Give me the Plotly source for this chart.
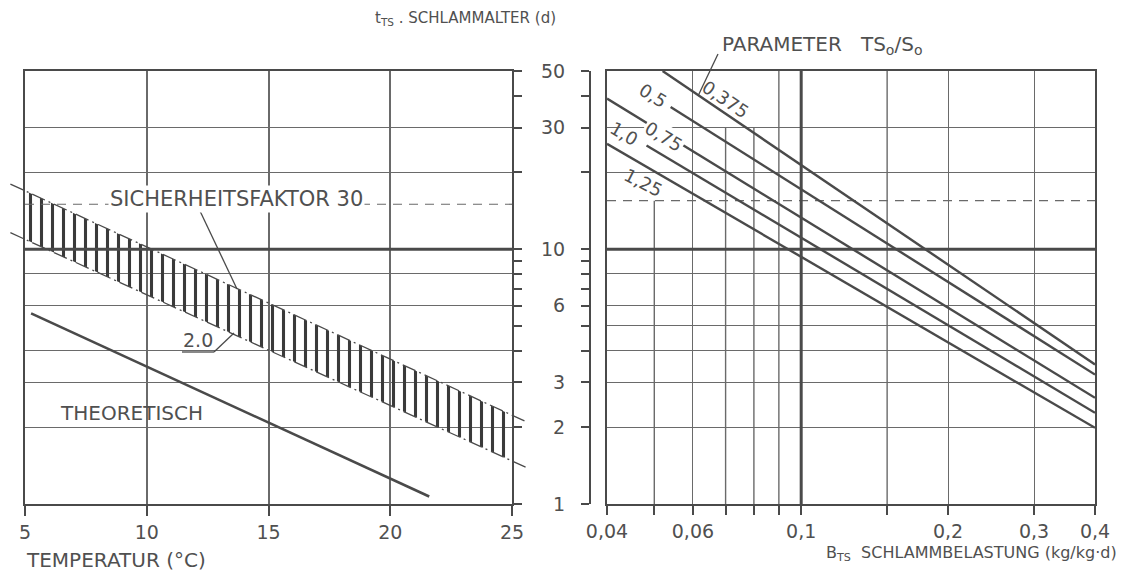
import math
import plotly.graph_objects as go

W, H = 1125, 576

# ---------------- data ----------------
# left chart: sludge age (d) versus temperature (deg C)
temp_theo = [5.25, 21.6]
age_theo = [5.6, 1.07]
temp_band = [4.4, 25.6]
age_band_upper = [18.0, 2.1]     # Sicherheitsfaktor 3.0
age_band_lower = [11.6, 1.39]    # Sicherheitsfaktor 2.0
temp_span = [5, 25]
age_dash_left = [15.0, 15.0]
age_ref = [10, 10]

# right chart: sludge age (d) versus sludge loading, parameter TS0/S0
param_labels = ["0,375", "0,5", "0,75", "1,0", "1,25"]
load_start = [0.052, 0.054, 0.040, 0.0482, 0.040]
load_end = [0.4, 0.4, 0.4, 0.4, 0.4]
age_start = [50.0, 36.1, 39.0, 25.5, 25.9]
age_end = [3.53, 3.22, 2.61, 2.28, 1.99]
load_span = [0.04, 0.4]
age_dash_right = [15.5, 15.5]
load_ref = [0.1, 0.1]
age_span = [1, 50]
# vertical grid lines of the right chart that stop below the top edge
load_grid_x = [0.05, 0.07, 0.08, 0.09, 0.15]
load_grid_top = [15.5, 30, 30, 50, 50]

# ticks
temp_ticks = [5, 10, 15, 20, 25]
load_ticks = [0.04, 0.06, 0.1, 0.2, 0.3, 0.4]
load_ticktext = ["0,04", "0,06", "0,1", "0,2", "0,3", "0,4"]
load_minor = [0.05, 0.07, 0.08, 0.09, 0.15]
age_grid_left = [1, 2, 3, 4, 6, 8, 10, 20, 30, 50]
age_minor_left = [5, 7, 9, 40]
age_grid_right = [2, 3, 4, 5, 6, 8, 10, 20, 30]
age_ticks_right = [1, 2, 3, 6, 10, 30, 50]
age_minor_right = [4, 5, 7, 8, 9, 20, 40]

# ---------------- geometry ----------------
LX0, LX1 = 25, 512
RX0, RX1 = 607, 1095
YT, YB = 71, 504
EXT0, EXT1 = 10, 528
RAXIS = 590


def fx(p):
    return p / W


def fy(p):
    return 1 - p / H


ink = "#4a4a4a"
grid = "#6a6a6a"
txt = "#505050"
FONT = "DejaVu Sans"

t_per_px = (temp_span[1] - temp_span[0]) / (LX1 - LX0)
ext_range = [temp_span[0] + (EXT0 - LX0) * t_per_px, temp_span[0] + (EXT1 - LX0) * t_per_px]

fig = go.Figure()

# hatched band
fig.add_trace(go.Scatter(
    x=temp_band + temp_band[::-1], y=age_band_lower + age_band_upper[::-1],
    xaxis="x", yaxis="y", mode="lines", line=dict(width=0),
    fill="toself", fillcolor="rgba(0,0,0,0)",
    fillpattern=dict(shape="|", size=11, solidity=0.28, fgcolor="#3a3a3a",
                     bgcolor="rgba(255,255,255,0)", fgopacity=1),
    hoverinfo="skip"))
# band boundaries, running past the frame (own invisible axes)
for arr in (age_band_upper, age_band_lower):
    fig.add_trace(go.Scatter(x=temp_band, y=arr, xaxis="x3", yaxis="y4", mode="lines",
                             line=dict(color=ink, width=1.3, dash="14px,4px,2px,4px")))
fig.add_trace(go.Scatter(x=temp_theo, y=age_theo, xaxis="x", yaxis="y", mode="lines",
                         line=dict(color=ink, width=2.6)))
fig.add_trace(go.Scatter(x=temp_span, y=age_ref, xaxis="x", yaxis="y", mode="lines",
                         line=dict(color=ink, width=3)))
fig.add_trace(go.Scatter(x=temp_span, y=age_dash_left, xaxis="x", yaxis="y", mode="lines",
                         line=dict(color=grid, width=1.2, dash="9px,7px")))

# right chart grid extras and reference lines
for gx, gt in zip(load_grid_x, load_grid_top):
    fig.add_trace(go.Scatter(x=[gx, gx], y=[age_span[0], gt], xaxis="x2", yaxis="y2",
                             mode="lines", line=dict(color=grid, width=1.4), hoverinfo="skip"))
fig.add_trace(go.Scatter(x=load_span, y=age_ref, xaxis="x2", yaxis="y2", mode="lines",
                         line=dict(color=ink, width=3)))
fig.add_trace(go.Scatter(x=load_span, y=age_dash_right, xaxis="x2", yaxis="y2", mode="lines",
                         line=dict(color=grid, width=1.2, dash="9px,7px")))
fig.add_trace(go.Scatter(x=load_ref, y=age_span, xaxis="x2", yaxis="y2", mode="lines",
                         line=dict(color=ink, width=3)))
for i in range(len(param_labels)):
    fig.add_trace(go.Scatter(x=[load_start[i], load_end[i]], y=[age_start[i], age_end[i]],
                             xaxis="x2", yaxis="y3", mode="lines", name=param_labels[i],
                             line=dict(color=ink, width=2.4)))

tickfont = dict(family=FONT, size=19, color=txt)
ydom = [fy(YB), fy(YT)]
yrange = [0, math.log10(50)]

fig.update_layout(
    template="none",
    width=W, height=H, margin=dict(l=0, r=0, t=0, b=0, pad=0, autoexpand=False),
    paper_bgcolor="white", plot_bgcolor="rgba(0,0,0,0)", showlegend=False,
    xaxis=dict(domain=[fx(LX0), fx(LX1)], range=temp_span, anchor="y", automargin=False,
               tickmode="array", tickvals=temp_ticks, ticks="outside", ticklen=10,
               tickwidth=2, tickcolor=ink, showline=True, linewidth=2.4, linecolor=ink,
               mirror=True, showgrid=True, gridcolor=grid, gridwidth=2, zeroline=False,
               tickfont=tickfont),
    yaxis=dict(domain=ydom, type="log", range=yrange, anchor="x", side="right",
               automargin=False,
               tickmode="array", tickvals=age_grid_left, showticklabels=False,
               ticks="outside", ticklen=8, tickwidth=2, tickcolor=ink,
               showline=True, linewidth=2, linecolor=ink, mirror=True,
               showgrid=True, gridcolor=grid, gridwidth=1.4, zeroline=False,
               minor=dict(tickmode="array", tickvals=age_minor_left, ticks="outside",
                          ticklen=8, tickwidth=2, tickcolor=ink, showgrid=False)),
    xaxis3=dict(domain=[fx(EXT0), fx(EXT1)], range=ext_range, anchor="y4", visible=False,
                automargin=False, showgrid=False),
    yaxis4=dict(domain=ydom, type="log", range=yrange, anchor="x3", visible=False,
                automargin=False, showgrid=False),
    xaxis2=dict(domain=[fx(RX0), fx(RX1)], type="log", automargin=False,
                range=[math.log10(load_span[0]), math.log10(load_span[1])], anchor="y2",
                tickmode="array", tickvals=load_ticks, ticktext=load_ticktext,
                ticks="outside", ticklen=9, tickwidth=2, tickcolor=ink,
                showline=True, linewidth=2.4, linecolor=ink, mirror=True,
                showgrid=True, gridcolor=grid, gridwidth=1.4, zeroline=False,
                tickfont=tickfont,
                minor=dict(tickmode="array", tickvals=load_minor, ticks="outside",
                           ticklen=9, tickwidth=2, tickcolor=ink, showgrid=False)),
    yaxis2=dict(domain=ydom, type="log", range=yrange, anchor="x2", automargin=False,
                tickmode="array", tickvals=age_grid_right, showticklabels=False, ticks="",
                showline=True, linewidth=2, linecolor=ink, mirror=True,
                showgrid=True, gridcolor=grid, gridwidth=1.4, zeroline=False),
    yaxis3=dict(domain=ydom, type="log", range=yrange, overlaying="y2", anchor="free",
                position=fx(RAXIS), side="left", tickmode="array", automargin=False,
                tickvals=age_ticks_right, ticktext=[str(v) for v in age_ticks_right],
                ticks="outside", ticklen=8, tickwidth=2, tickcolor=ink,
                showline=True, linewidth=2, linecolor=ink, showgrid=False,
                zeroline=False, tickfont=tickfont, ticklabelstandoff=12,
                minor=dict(tickmode="array", tickvals=age_minor_right, ticks="outside",
                           ticklen=8, tickwidth=2, tickcolor=ink, showgrid=False)),
)


def ann(text, x, y, size=19, xanchor="center", yanchor="middle", angle=0, bg=None):
    d = dict(text=text, x=fx(x), y=fy(y), xref="paper", yref="paper", showarrow=False,
             xanchor=xanchor, yanchor=yanchor, textangle=angle,
             font=dict(family=FONT, size=size, color=txt))
    if bg:
        d.update(bgcolor=bg, borderpad=1)
    fig.add_annotation(**d)


def leader(p0, p1):
    fig.add_shape(type="line", xref="paper", yref="paper", x0=fx(p0[0]), y0=fy(p0[1]),
                  x1=fx(p1[0]), y1=fy(p1[1]), line=dict(color=ink, width=1.3))


# titles
ann("t<sub>TS</sub> . SCHLAMMALTER (d)", 373, 18, size=15, xanchor="left")
ann("TEMPERATUR (°C)", 24, 560, size=20, xanchor="left")
ann("B<sub>TS</sub>  SCHLAMMBELASTUNG (kg/kg·d)", 1119, 553, size=16, xanchor="right")
ann("PARAMETER   TS<sub>o</sub>/S<sub>o</sub>", 720, 45, size=20, xanchor="left")
leader((718, 54), (698, 96))

# left chart labels
ann("SICHERHEITSFAKTOR 30", 236, 199, size=21, bg="white")
leader((200, 211), (237, 289))
ann("2.0", 198, 340, size=19)
leader((182, 352), (214, 352))
leader((214, 352), (234, 333))
ann("THEORETISCH", 131, 413, size=20)

# right chart labels
ann("0,375", 726, 99, size=18, angle=34)
ann("0,5", 653, 95, size=18, angle=32)
ann("0,75", 664, 136, size=18, angle=31, bg="white")
ann("1,0", 624, 133, size=18, angle=30)
ann("1,25", 643, 183, size=18, angle=27)

fig.write_html("out.html")
